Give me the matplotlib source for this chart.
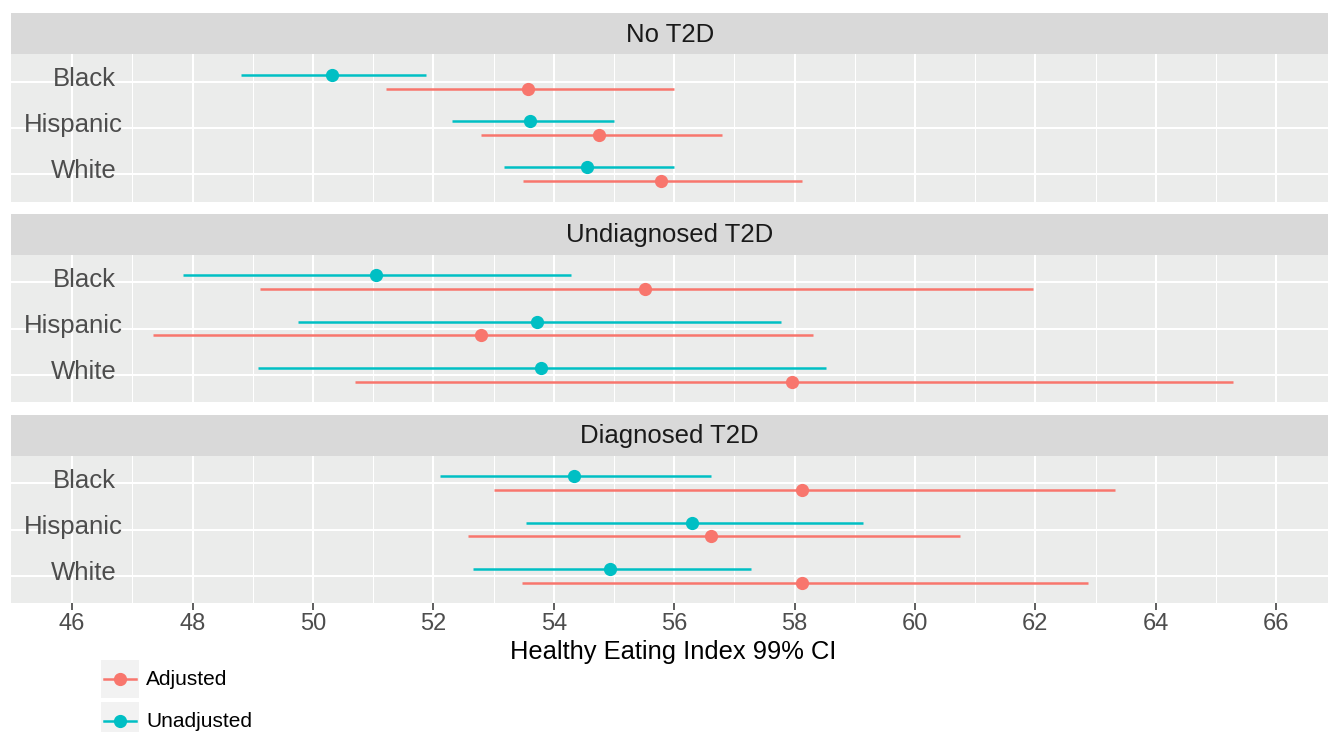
import numpy as np
import matplotlib
matplotlib.use("Agg")
import matplotlib.pyplot as plt
from matplotlib.legend_handler import HandlerBase
from matplotlib.patches import Rectangle
from matplotlib.lines import Line2D
from matplotlib.transforms import ScaledTranslation

plt.rcParams['font.family'] = ['Liberation Sans', 'DejaVu Sans']

# facets and categories
groups = ["No T2D", "Undiagnosed T2D", "Diagnosed T2D"]
races = ["Black", "Hispanic", "White"]

# adjusted estimates and 99% CI (rows = groups, cols = races)
adj_est = [[53.57, 54.75, 55.78], [55.51, 52.79, 57.96], [58.13, 56.62, 58.13]]
adj_lo = [[51.21, 52.79, 53.49], [49.12, 47.34, 50.70], [53.00, 52.57, 53.47]]
adj_hi = [[55.99, 56.80, 58.13], [61.96, 58.30, 65.28], [63.33, 60.74, 62.87]]

# unadjusted estimates and 99% CI
unadj_est = [[50.31, 53.60, 54.55], [51.04, 53.73, 53.78], [54.34, 56.30, 54.94]]
unadj_lo = [[48.80, 52.31, 53.17], [47.85, 49.75, 49.09], [52.11, 53.54, 52.66]]
unadj_hi = [[51.88, 55.00, 55.99], [54.29, 57.78, 58.53], [56.62, 59.14, 57.28]]

red = "#F8766D"
teal = "#00BFC4"


class KeyHandler(HandlerBase):
    # ggplot-like legend key: grey square with a pointrange inside
    def create_artists(self, legend, orig_handle, xdescent, ydescent, width, height,
                       fontsize, trans):
        bg = Rectangle((-xdescent, -ydescent), width, height, fc="#F2F2F2", ec="none",
                       transform=trans)
        yc = -ydescent + height / 2
        x0 = -xdescent
        c = orig_handle.get_color()
        line = Line2D([x0 + 0.08 * width, x0 + 0.92 * width], [yc, yc], color=c, lw=1.8,
                      transform=trans)
        mk = Line2D([x0 + width / 2], [yc], marker="o", ms=8.5, color=c, ls="none",
                    transform=trans)
        return [bg, line, mk]


W, H = 1328, 732
fig = plt.figure(figsize=(W / 100, H / 100), dpi=100)

left = 11.3
panel_tops = [54, 254.7, 455.7]
panel_h = 147.7
strip_h = 41
dodge = 0.15

ypos = np.arange(len(races))[::-1] + 1
race_labels = []
for i, g in enumerate(groups):
    top = panel_tops[i]
    ax = fig.add_axes([left / W, 1 - (top + panel_h) / H, (W - left) / W, panel_h / H])
    sax = fig.add_axes([left / W, 1 - top / H, (W - left) / W, strip_h / H])
    sax.set_facecolor("#D9D9D9")
    sax.set_xticks([])
    sax.set_yticks([])
    for s in sax.spines.values():
        s.set_visible(False)
    sax.text(0.5, 0.47, g, ha="center", va="center", fontsize=18.5, color="#1A1A1A",
             transform=sax.transAxes)

    ax.set_facecolor("#EBECEB")
    for s in ax.spines.values():
        s.set_visible(False)
    ax.set_xlim(44.99, 66.86)
    ax.set_ylim(0.4, 3.6)
    ax.set_xticks(range(46, 67, 2))
    ax.set_xticks(range(47, 67, 2), minor=True)
    ax.set_yticks(ypos)
    ax.set_yticklabels([])
    ax.grid(which="major", color="white", lw=1.5)
    ax.grid(which="minor", axis="x", color="white", lw=0.75)
    ax.set_axisbelow(True)
    ax.tick_params(axis="y", length=0)
    ax.tick_params(axis="x", which="minor", length=0)
    if i < 2:
        ax.tick_params(axis="x", length=0, labelbottom=False)
    else:
        ax.tick_params(axis="x", length=4.8, width=1.1, color="#333333",
                       labelsize=17, labelcolor="#4D4D4D", pad=2)

    ax.hlines(ypos + dodge, unadj_lo[i], unadj_hi[i], color=teal, lw=1.8, zorder=3)
    ax.plot(unadj_est[i], ypos + dodge, "o", color=teal, ms=8.5, zorder=4)
    ax.hlines(ypos - dodge, adj_lo[i], adj_hi[i], color=red, lw=1.8, zorder=3)
    ax.plot(adj_est[i], ypos - dodge, "o", color=red, ms=8.5, zorder=4)

    for y, r in zip(ypos, races):
        t = ax.text(46.53, y - 0.093, r, ha="left", va="baseline", fontsize=18.5,
                    color="#4D4D4D", zorder=5)
        race_labels.append((ax, t))

fig.text(673 / W, 1 - 659 / H, "Healthy Eating Index 99% CI", ha="center", va="baseline",
         fontsize=18.4, color="black")

handles = [Line2D([], [], color=red), Line2D([], [], color=teal)]
fig.legend(handles=handles, labels=["Adjusted", "Unadjusted"],
           handler_map={Line2D: KeyHandler()},
           loc="upper left", bbox_to_anchor=(101 / W, 1 - 660 / H), frameon=False,
           fontsize=15, handlelength=1.83, handleheight=2.434, handletextpad=0.34,
           labelspacing=0.18, borderpad=0, borderaxespad=0)

# shift race labels so they sit with a fractional horizontal justification
fig.canvas.draw()
for ax, t in race_labels:
    w = t.get_window_extent().width
    t.set_transform(ax.transData + ScaledTranslation(-0.806 * w / fig.dpi, 0, fig.dpi_scale_trans))

fig.savefig("out.png", dpi=100)
